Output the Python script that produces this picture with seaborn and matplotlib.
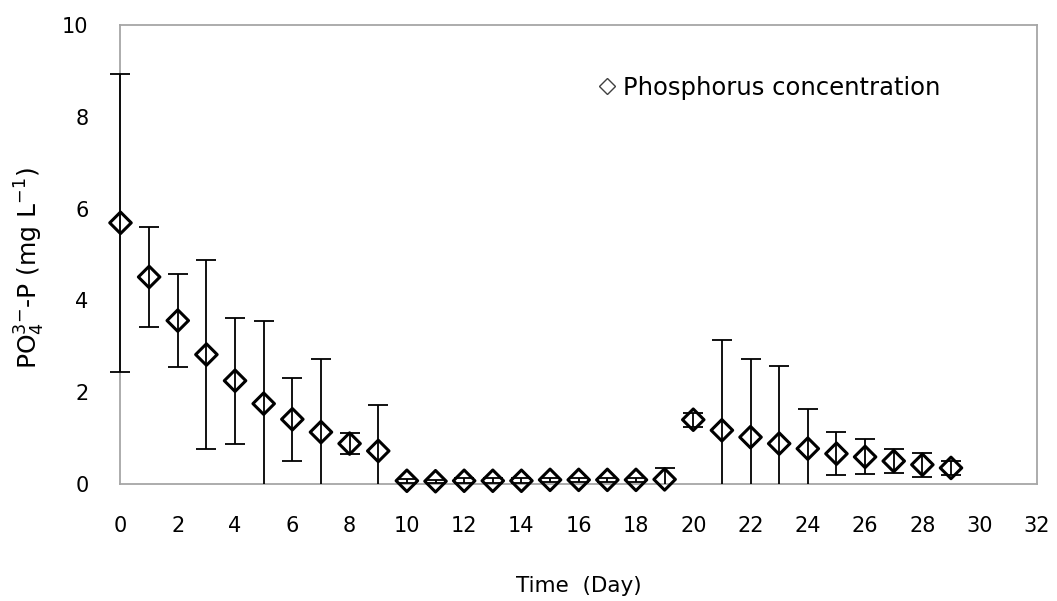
import matplotlib
matplotlib.use("Agg")
import matplotlib.pyplot as plt
from matplotlib.lines import Line2D
from matplotlib.patches import Rectangle
import numpy as np
import pandas as pd
import seaborn as sns

# Phosphate-phosphorus concentration over the run (mean ± SD)
days = list(range(30))
conc = [5.69, 4.51, 3.56, 2.82, 2.25, 1.75, 1.41, 1.13, 0.88, 0.72,
        0.07, 0.06, 0.07, 0.07, 0.07, 0.09, 0.09, 0.09, 0.09, 0.10,
        1.40, 1.17, 1.02, 0.88, 0.77, 0.66, 0.59, 0.50, 0.42, 0.35]
sd = [3.25, 1.09, 1.02, 2.05, 1.37, 1.80, 0.90, 1.59, 0.22, 1.00,
      0.04, 0.03, 0.05, 0.05, 0.05, 0.04, 0.05, 0.05, 0.05, 0.24,
      0.15, 1.97, 1.70, 1.70, 0.86, 0.47, 0.38, 0.27, 0.26, 0.15]
x_ticks = list(range(0, 33, 2))
y_ticks = list(range(0, 11, 2))

df = pd.DataFrame({"day": days, "conc": conc, "sd": sd})

sns.set_style("white")
plt.rcParams["font.family"] = ["DejaVu Sans"]
plt.rcParams["mathtext.fontset"] = "dejavusans"
plt.rcParams["text.color"] = "black"
plt.rcParams["axes.labelcolor"] = "black"

fig = plt.figure(figsize=(10.57, 6.01), dpi=100)
ax = fig.add_axes([0.114, 0.1947, 0.867, 0.7637])

# error bars above the frame, hollow diamonds on top of them
eb = ax.errorbar(df["day"], df["conc"], yerr=df["sd"], fmt="none",
                 ecolor="black", elinewidth=1.3, capsize=7, capthick=1.3,
                 zorder=3)
sns.scatterplot(data=df, x="day", y="conc", marker="D", s=120,
                facecolors="none", edgecolor="black", linewidth=2.2,
                ax=ax, zorder=4, legend=False, clip_on=False)

# bars may run over the left spine but are cut off at zero
clip_rect = Rectangle((-0.05, 0.0), 1.1, 1.05, transform=ax.transAxes,
                      facecolor="none", edgecolor="none")
for child in eb.get_children():
    child.set_clip_path(clip_rect)

ax.set_xlim(0, 32)
ax.set_ylim(0, 10)
ax.set_xticks(x_ticks)
ax.set_yticks(y_ticks)
ax.tick_params(axis="both", direction="out", length=7, width=1.2,
               color="#a6a6a6", labelsize=15, labelcolor="black", pad=16)
for side in ["left", "right", "top", "bottom"]:
    ax.spines[side].set_visible(True)
    ax.spines[side].set_color("#a6a6a6")
    ax.spines[side].set_linewidth(1.3)

ax.set_xlabel("Time  (Day)", fontsize=15.5, labelpad=29)
ax.set_ylabel(r"PO$_4^{3\mathrm{-}}$-P (mg L$^{\mathrm{-}1}$)", fontsize=18)
ax.yaxis.set_label_coords(-0.08, 0.47)

handle = Line2D([], [], linestyle="none", marker="D", markersize=8,
                markerfacecolor="none", markeredgecolor="#404040",
                markeredgewidth=1.0)
ax.legend([handle], ["Phosphorus concentration"], loc="center left",
          bbox_to_anchor=(585 / 1057, 1 - 88 / 601),
          bbox_transform=fig.transFigure, frameon=False, fontsize=17.5,
          borderpad=0, handlelength=0.8, handletextpad=0.27)

fig.savefig("out.png", dpi=100)
